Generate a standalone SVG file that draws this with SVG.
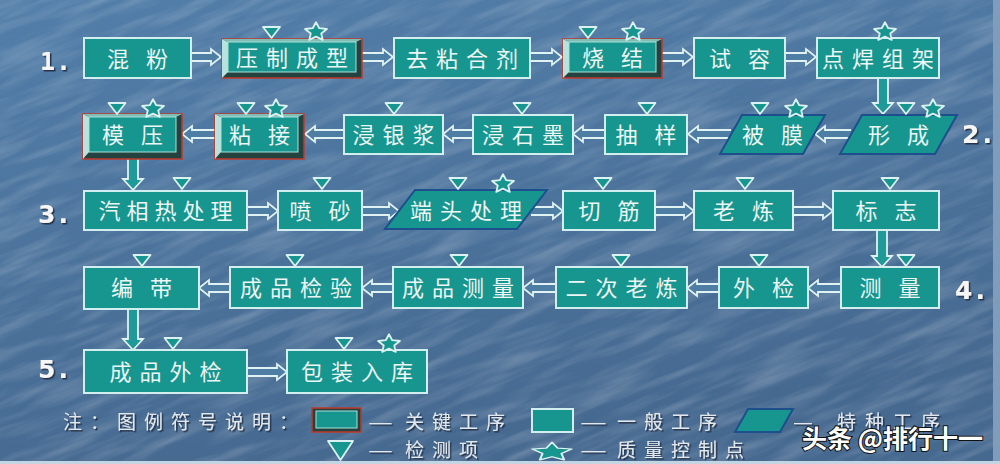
<svg xmlns="http://www.w3.org/2000/svg" width="1000" height="464" viewBox="0 0 1000 464">
<defs>
<linearGradient id="bg" x1="0" y1="0" x2="0.3" y2="1">
<stop offset="0" stop-color="#527ea9"/>
<stop offset="1" stop-color="#466990"/>
</linearGradient>
<filter id="tex" x="0" y="0" width="100%" height="100%">
<feTurbulence type="fractalNoise" baseFrequency="0.012 0.09" numOctaves="3" seed="7"/>
<feColorMatrix type="matrix" values="0 0 0 0 1  0 0 0 0 1  0 0 0 0 1  0.4 0 0 0 -0.16"/>
</filter>
<filter id="sh" x="-20%" y="-20%" width="140%" height="140%">
<feDropShadow dx="1.5" dy="1.5" stdDeviation="0.6" flood-color="#1a2a3c" flood-opacity="0.9"/>
</filter>
<path id="tri" d="M-8.5,0 L8.5,0 L0,11 Z"/>
<path id="star" d="M0,-9.8 L3.23,-3.78 L10.94,-3.02 L5.23,1.45 L6.76,7.9 L0,4.68 L-6.76,7.9 L-5.23,1.45 L-10.94,-3.02 L-3.23,-3.78 Z"/>
</defs>
<style>
.box{fill:#17958f;stroke:#d2eeee;stroke-width:2}
.para{fill:#17958f;stroke:#1d4f8c;stroke-width:2}
.kout{fill:#24423f;stroke:#c0392b;stroke-width:1.5}
.klt{fill:#b8e2dc}
.ktp{fill:#80bdb5}
.kin{fill:#17958f;stroke:#a8e2da;stroke-width:1}
.t{font-family:"Noto Sans CJK SC",sans-serif;font-size:22px;fill:#ecf6f4;text-anchor:middle;letter-spacing:8px}
.t2{font-family:"Noto Sans CJK SC",sans-serif;font-size:22px;fill:#ecf6f4;text-anchor:middle;letter-spacing:6px}
.t5{letter-spacing:6px}
.num{font-family:"DejaVu Sans",sans-serif;font-weight:bold;font-size:25px;fill:#f6f6f6;letter-spacing:3px}
.lg{font-family:"Noto Sans CJK SC",sans-serif;font-size:19px;fill:#e2e8ee;letter-spacing:8px}
.dash{font-family:"Noto Sans CJK SC",sans-serif;font-size:19px;fill:#e2e8ee}
.mk{fill:#17958f;stroke:#dcf2f2;stroke-width:1.8;stroke-linejoin:round}
.ha{fill:#4e7ea3;stroke:#e0f2f2;stroke-width:1.8;stroke-linejoin:miter}
.va{fill:#1f9a98;stroke:#e0f2f2;stroke-width:1.8}
</style>
<rect width="1000" height="464" fill="url(#bg)"/>
<g transform="rotate(-22 500 232)"><rect x="-300" y="-300" width="1600" height="1064" filter="url(#tex)"/></g>
<rect x="993" y="0" width="7" height="464" fill="#7f9cba"/>
<rect x="0" y="461" width="1000" height="3" fill="#c3d4e2"/>

<g id="numbers" filter="url(#sh)">
<text class="num" x="40" y="70" style="font-family:'DejaVu Sans Mono',monospace;letter-spacing:1px">1.</text>
<text class="num" x="962" y="143">2.</text>
<text class="num" x="38" y="223">3.</text>
<text class="num" x="955" y="299">4.</text>
<text class="num" x="38" y="378">5.</text>
</g>

<g id="connectors">
<path class="ha" d="M191,53 H211 V49 L221,57 L211,65 V61 H191"/>
<path class="ha" d="M362,53 H383 V49 L393,57 L383,65 V61 H362"/>
<path class="ha" d="M530,53 H552 V49 L562,57 L552,65 V61 H530"/>
<path class="ha" d="M662,53 H683 V49 L693,57 L683,65 V61 H662"/>
<path class="ha" d="M785,53 H806 V49 L816,57 L806,65 V61 H785"/>
<path class="ha" d="M851,130 H825 V126 L815,134 L825,142 V138 H851"/>
<path class="ha" d="M731,130 H698 V126 L688,134 L698,142 V138 H731"/>
<path class="ha" d="M605,130 H583 V126 L573,134 L583,142 V138 H605"/>
<path class="ha" d="M473,130 H453 V126 L443,134 L453,142 V138 H473"/>
<path class="ha" d="M344,130 H315 V126 L305,134 L315,142 V138 H344"/>
<path class="ha" d="M215,130 H192 V126 L182,134 L192,142 V138 H215"/>
<path class="ha" d="M247,207 H268 V203 L278,211 L268,219 V215 H247"/>
<path class="ha" d="M362,207 H389 V203 L399,211 L389,219 V215 H362"/>
<path class="ha" d="M531,207 H553 V203 L563,211 L553,219 V215 H531"/>
<path class="ha" d="M655,207 H684 V203 L694,211 L684,219 V215 H655"/>
<path class="ha" d="M793,207 H823 V203 L833,211 L823,219 V215 H793"/>
<path class="ha" d="M841,284 H818 V280 L808,288 L818,296 V292 H841"/>
<path class="ha" d="M719,284 H697 V280 L687,288 L697,296 V292 H719"/>
<path class="ha" d="M556,284 H533 V280 L523,288 L533,296 V292 H556"/>
<path class="ha" d="M393,284 H372 V280 L362,288 L372,296 V292 H393"/>
<path class="ha" d="M230,284 H209 V280 L199,288 L209,296 V292 H230"/>
<path class="ha" d="M247,368 H277 V364 L287,372 L277,380 V376 H247"/>
<path class="va" d="M878,78 V103 H873 L883,114 L893,103 H888 V78"/>
<path class="va" d="M128,159 V179 H123 L133,190 L143,179 H138 V159"/>
<path class="va" d="M877,230 V256 H872 L882,267 L892,256 H887 V230"/>
<path class="va" d="M128,309 V339 H123 L133,350 L143,339 H138 V309"/>
</g>

<g id="n-hunfen"><rect class="box" x="84" y="38" width="107" height="40"/><text class="t2" x="140.5" y="67">混 粉</text></g>
<g id="n-yazhi"><rect class="kout" x="222" y="39" width="140" height="39"/><polygon class="klt" points="222,39 228,42 228,72 222,78"/><polygon class="ktp" points="222,39 362,39 356,42 228,42"/><rect class="kin" x="228" y="42" width="128" height="30"/><text class="t" x="296" y="66">压制成型</text>
<use href="#tri" class="mk" x="271.5" y="27"/><use href="#star" class="mk" x="316" y="32"/></g>
<g id="n-quzhan"><rect class="box" x="394" y="38" width="136" height="40"/><text class="t" x="466" y="67">去粘合剂</text></g>
<g id="n-shaojie"><rect class="kout" x="563" y="39" width="99" height="39"/><polygon class="klt" points="563,39 569,42 569,72 563,78"/><polygon class="ktp" points="563,39 662,39 656,42 569,42"/><rect class="kin" x="569" y="42" width="87" height="30"/><text class="t2" x="615.5" y="66">烧 结</text>
<use href="#tri" class="mk" x="588" y="27"/><use href="#star" class="mk" x="633" y="32"/></g>
<g id="n-shirong"><rect class="box" x="694" y="38" width="91" height="40"/><text class="t2" x="742.5" y="67">试 容</text></g>
<g id="n-dianhan"><rect class="box" x="817" y="38" width="122" height="40"/><text class="t" x="882" y="67">点焊组架</text>
<use href="#star" class="mk" x="885" y="32"/></g>

<g id="n-xingcheng"><polygon class="para" points="862,115 957,115 935,154 840,154"/><text class="t2" x="901.5" y="143">形 成</text>
<use href="#tri" class="mk" x="906" y="103"/><use href="#star" class="mk" x="933" y="109"/></g>
<g id="n-beimo"><polygon class="para" points="742,115 825,115 803,154 720,154"/><text class="t2" x="775.5" y="143">被 膜</text>
<use href="#tri" class="mk" x="760" y="103"/><use href="#star" class="mk" x="796" y="109"/></g>
<g id="n-chouyang"><rect class="box" x="605" y="115" width="82" height="39"/><text class="t2" x="649" y="143">抽 样</text>
<use href="#tri" class="mk" x="647" y="103"/></g>
<g id="n-jinshimo"><rect class="box" x="473" y="115" width="100" height="39"/><text class="t" x="527" y="143">浸石墨</text>
<use href="#tri" class="mk" x="522" y="103"/></g>
<g id="n-jinyinjiang"><rect class="box" x="344" y="115" width="99" height="39"/><text class="t" x="397.5" y="143">浸银浆</text>
<use href="#tri" class="mk" x="394" y="103"/></g>
<g id="n-zhanjie"><rect class="kout" x="215" y="114" width="89" height="45"/><polygon class="klt" points="215,114 221,117 221,152 215,159"/><polygon class="ktp" points="215,114 304,114 298,117 221,117"/><rect class="kin" x="221" y="117" width="77" height="35"/><text class="t2" x="262.5" y="143">粘 接</text>
<use href="#tri" class="mk" x="246" y="103"/><use href="#star" class="mk" x="276" y="109"/></g>
<g id="n-moya"><rect class="kout" x="83" y="114" width="99" height="45"/><polygon class="klt" points="83,114 89,117 89,152 83,159"/><polygon class="ktp" points="83,114 182,114 176,117 89,117"/><rect class="kin" x="89" y="117" width="87" height="35"/><text class="t2" x="135.5" y="143">模 压</text>
<use href="#tri" class="mk" x="117" y="103"/><use href="#star" class="mk" x="153" y="109"/></g>

<g id="n-qixiang"><rect class="box" x="84" y="191" width="163" height="39"/><text class="t t5" x="168.5" y="219">汽相热处理</text>
<use href="#tri" class="mk" x="182" y="178"/></g>
<g id="n-pensha"><rect class="box" x="278" y="191" width="84" height="39"/><text class="t2" x="323" y="219">喷 砂</text>
<use href="#tri" class="mk" x="322" y="178"/></g>
<g id="n-duantou"><polygon class="para" points="415,190 547,190 517,229 385,229"/><text class="t" x="470" y="219">端头处理</text>
<use href="#tri" class="mk" x="458" y="178"/><use href="#star" class="mk" x="503" y="184"/></g>
<g id="n-qiejin"><rect class="box" x="563" y="191" width="92" height="39"/><text class="t2" x="612" y="219">切 筋</text>
<use href="#tri" class="mk" x="603" y="178"/></g>
<g id="n-laolian"><rect class="box" x="694" y="191" width="99" height="39"/><text class="t2" x="746.5" y="219">老 炼</text>
<use href="#tri" class="mk" x="745" y="178"/></g>
<g id="n-biaozhi"><rect class="box" x="833" y="191" width="106" height="39"/><text class="t2" x="889" y="219">标 志</text>
<use href="#tri" class="mk" x="890" y="178"/></g>

<g id="n-celiang"><rect class="box" x="841" y="267" width="98" height="41"/><text class="t2" x="893" y="296">测 量</text>
<use href="#tri" class="mk" x="906" y="255"/></g>
<g id="n-waijian"><rect class="box" x="719" y="267" width="89" height="41"/><text class="t2" x="766.5" y="296">外 检</text>
<use href="#tri" class="mk" x="759" y="255"/></g>
<g id="n-erci"><rect class="box" x="556" y="267" width="131" height="41"/><text class="t" x="625.5" y="296">二次老炼</text>
<use href="#tri" class="mk" x="621" y="255"/></g>
<g id="n-chengpinceliang"><rect class="box" x="393" y="267" width="130" height="41"/><text class="t" x="462" y="296">成品测量</text>
<use href="#tri" class="mk" x="459" y="255"/></g>
<g id="n-chengpinjianyan"><rect class="box" x="230" y="267" width="132" height="41"/><text class="t" x="300" y="296">成品检验</text>
<use href="#tri" class="mk" x="295" y="255"/></g>
<g id="n-biandai"><rect class="box" x="84" y="267" width="115" height="42"/><text class="t2" x="144.5" y="296">编 带</text>
<use href="#tri" class="mk" x="142" y="255"/></g>

<g id="n-chengpinwaijian"><rect class="box" x="84" y="350" width="163" height="43"/><text class="t" x="169.5" y="380">成品外检</text>
<use href="#tri" class="mk" x="173" y="338"/></g>
<g id="n-baozhuang"><rect class="box" x="287" y="350" width="140" height="43"/><text class="t" x="361" y="380">包装入库</text>
<use href="#tri" class="mk" x="344" y="338"/><use href="#star" class="mk" x="389" y="344"/></g>

<g id="legend">
<text class="lg" x="63" y="429" filter="url(#sh)">注：图例符号说明：</text>
<rect class="kout" x="312" y="408" width="49" height="24"/>
<rect class="kin" x="316" y="411" width="41" height="17"/>
<text class="dash" x="368" y="429" textLength="25" lengthAdjust="spacingAndGlyphs" filter="url(#sh)">—</text>
<text class="lg" x="405" y="429" filter="url(#sh)">关键工序</text>
<rect class="box" x="532" y="409" width="41" height="23"/>
<text class="dash" x="580" y="429" textLength="27" lengthAdjust="spacingAndGlyphs" filter="url(#sh)">—</text>
<text class="lg" x="617" y="429" filter="url(#sh)">一般工序</text>
<polygon class="para" points="748,409 793,409 780,432 735,432"/>
<text class="dash" x="793" y="429" textLength="20" lengthAdjust="spacingAndGlyphs" filter="url(#sh)">—</text>
<text class="lg" x="837" y="429" style="letter-spacing:9px" filter="url(#sh)">特种工序</text>
<path class="mk" d="M328,441 L353,441 L340.5,460 Z"/>
<text class="dash" x="368" y="457" textLength="25" lengthAdjust="spacingAndGlyphs" filter="url(#sh)">—</text>
<text class="lg" x="405" y="457" filter="url(#sh)">检测项</text>
<path class="mk" transform="translate(552,452) scale(1.8,1)" style="stroke-width:1.2" d="M0,-9.8 L3.23,-3.78 L10.94,-3.02 L5.23,1.45 L6.76,7.9 L0,4.68 L-6.76,7.9 L-5.23,1.45 L-10.94,-3.02 L-3.23,-3.78 Z"/>
<rect x="500" y="461" width="120" height="3" fill="#c3d4e2"/>
<text class="dash" x="580" y="457" textLength="27" lengthAdjust="spacingAndGlyphs" filter="url(#sh)">—</text>
<text class="lg" x="617" y="457" filter="url(#sh)">质量控制点</text>
</g>

<text x="802" y="448" textLength="181" lengthAdjust="spacingAndGlyphs" style="font-family:'Noto Sans CJK SC',sans-serif;font-weight:bold;font-size:25px;fill:#ffffff;stroke:#111111;stroke-width:2;paint-order:stroke">头条 @排行十一</text>
</svg>
